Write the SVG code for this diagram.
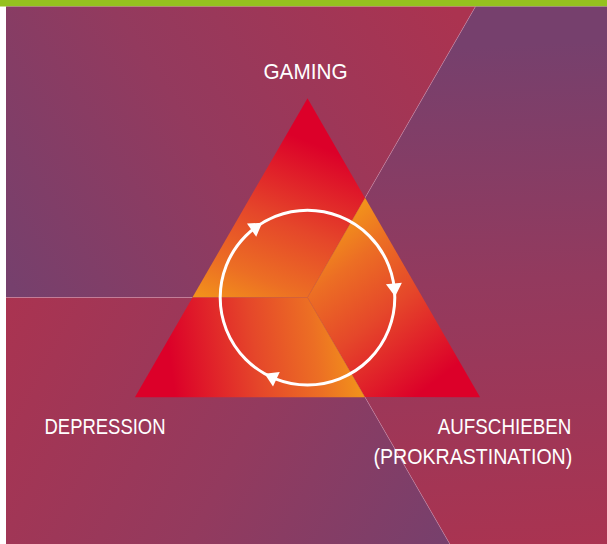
<svg xmlns="http://www.w3.org/2000/svg" xmlns:xlink="http://www.w3.org/1999/xlink" width="607" height="544" viewBox="0 0 607 544">
  <defs>
    <style>
      .label { font-family: "Liberation Sans", Arial, sans-serif; font-size: 21.5px; fill: #ffffff; }
      .ray { stroke: #e6a0bc; stroke-opacity: 0.45; stroke-width: 0.8; fill: none; }
      .seam { stroke: #b8402a; stroke-opacity: 0.35; stroke-width: 0.6; fill: none; }
      .cycle { stroke: #ffffff; stroke-width: 3; fill: none; }
      .head { fill: #ffffff; }
    </style>
    <clipPath id="frame">
      <rect x="6" y="6.5" width="601" height="537.5"/>
    </clipPath>
    <linearGradient id="bgGrad" gradientUnits="userSpaceOnUse" x1="20" y1="300" x2="460" y2="20">
      <stop offset="0" stop-color="#76406d"/>
      <stop offset="0.45" stop-color="#933a5e"/>
      <stop offset="1" stop-color="#ab3350"/>
    </linearGradient>
    <linearGradient id="pieceGrad" gradientUnits="userSpaceOnUse" x1="292.5" y1="135.3" x2="221.5" y2="311.6">
      <stop offset="0" stop-color="#dc0029"/>
      <stop offset="0.45" stop-color="#e5472a"/>
      <stop offset="0.76" stop-color="#ec6e24"/>
      <stop offset="1" stop-color="#f3961a"/>
    </linearGradient>
    <polygon id="sector" points="307.5,297.5 -1692.5,297.5 -692.5,-1434.5 1307.5,-1434.5" fill="url(#bgGrad)"/>
    <polygon id="piece" points="307.5,98.2 365,197.9 307.5,297.5 192.4,297.5" fill="url(#pieceGrad)"/>
    <polygon id="arrowhead" points="6.5,0 -6.5,-8 -6.5,8" class="head"/>
  </defs>

  <!-- frame -->
  <rect x="0" y="0" width="607" height="544" fill="#ffffff"/>
  <rect x="0" y="0" width="607" height="6.5" fill="#95c11f"/>

  <!-- background sectors -->
  <g id="background" clip-path="url(#frame)">
    <use xlink:href="#sector"/>
    <use xlink:href="#sector" transform="rotate(120 307.5 297.5)"/>
    <use xlink:href="#sector" transform="rotate(240 307.5 297.5)"/>
    <line class="ray" x1="6" y1="297.5" x2="192.4" y2="297.5"/>
    <line class="ray" x1="365" y1="197.9" x2="475.2" y2="7"/>
    <line class="ray" x1="365" y1="397.2" x2="449.8" y2="544"/>
  </g>

  <!-- triangle made of three rotated pieces -->
  <g id="triangle">
    <use xlink:href="#piece"/>
    <use xlink:href="#piece" transform="rotate(120 307.5 297.5)"/>
    <use xlink:href="#piece" transform="rotate(240 307.5 297.5)"/>
    <line class="seam" x1="307.5" y1="297.5" x2="192.4" y2="297.5"/>
    <line class="seam" x1="307.5" y1="297.5" x2="365" y2="197.9"/>
    <line class="seam" x1="307.5" y1="297.5" x2="365" y2="397.2"/>
  </g>

  <!-- cycle connectors -->
  <g id="connectors">
    <circle class="cycle" cx="307.5" cy="297.6" r="87.3"/>
    <use xlink:href="#arrowhead" transform="translate(256.9,226.4) rotate(325)"/>
    <use xlink:href="#arrowhead" transform="translate(394.5,290.0) rotate(85)"/>
    <use xlink:href="#arrowhead" transform="translate(270.5,376.6) rotate(205)"/>
  </g>

  <!-- labels -->
  <g id="node-gaming">
    <text class="label" x="263.5" y="79.3" textLength="84" lengthAdjust="spacingAndGlyphs">GAMING</text>
  </g>
  <g id="node-depression">
    <text class="label" x="44.5" y="434.3" textLength="121" lengthAdjust="spacingAndGlyphs">DEPRESSION</text>
  </g>
  <g id="node-aufschieben">
    <text class="label" x="437.8" y="434.3" textLength="133.5" lengthAdjust="spacingAndGlyphs">AUFSCHIEBEN</text>
    <text class="label" x="373.5" y="464" textLength="198.8" lengthAdjust="spacingAndGlyphs">(PROKRASTINATION)</text>
  </g>
</svg>
